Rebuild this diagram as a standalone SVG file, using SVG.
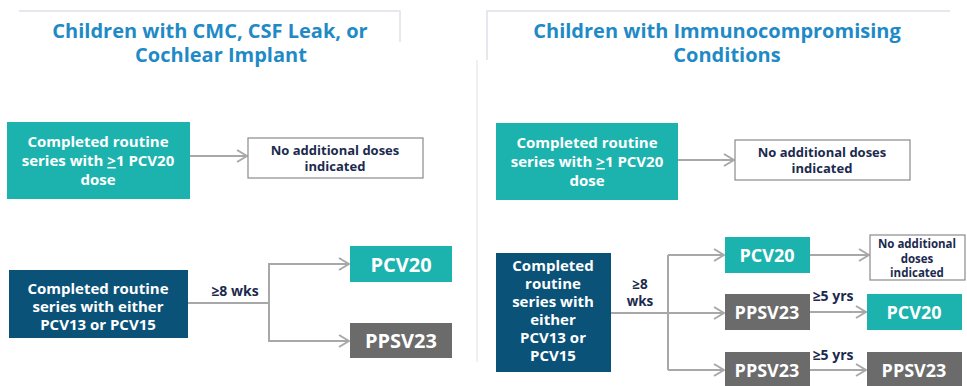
<svg xmlns="http://www.w3.org/2000/svg" width="967" height="386" viewBox="0 0 967 386">
<style>
.title{font-family:"Open Sans","Noto Sans",sans-serif;font-weight:bold;font-size:20px;fill:#1f8ac6;text-anchor:middle}
.wt{font-family:"Open Sans","Noto Sans",sans-serif;font-weight:bold;fill:#ffffff;text-anchor:middle}
.nt{font-family:"Open Sans","Noto Sans",sans-serif;font-weight:bold;fill:#1b2a4e;text-anchor:middle}
.teal{fill:#1cb3ae}
.navy{fill:#0b5278}
.gray{fill:#6b6b6b}
.wbox{fill:#ffffff;stroke:#8a8a8a;stroke-width:1.2}
.conn{fill:none;stroke:#a8a8a8;stroke-width:2}
.frame{fill:none;stroke:#dde1e6;stroke-width:1.5}
</style>
<defs>
<marker id="arr" viewBox="0 0 12 14" refX="11" refY="7" markerWidth="12" markerHeight="14" markerUnits="userSpaceOnUse" orient="auto">
<path d="M1,1 L11,7 L1,13" fill="none" stroke="#a8a8a8" stroke-width="2"/>
</marker>
</defs>
<rect width="967" height="386" fill="#ffffff"/>
<g id="frames">
<path class="frame" d="M19,11 H400 V42"/>
<path class="frame" d="M950,11 H487 V60"/>
<line x1="477" y1="60" x2="477" y2="362" stroke="#ebebeb" stroke-width="1.5"/>
</g>
<g id="title-left">
<text class="title" x="210" y="38">Children with CMC, CSF Leak, or</text>
<text class="title" x="221" y="62">Cochlear Implant</text>
</g>
<g id="title-right">
<text class="title" x="717" y="38">Children with Immunocompromising</text>
<text class="title" x="727" y="62">Conditions</text>
</g>
<g id="connectors">
<line class="conn" x1="190" y1="156" x2="247" y2="156" marker-end="url(#arr)"/>
<line class="conn" x1="188" y1="303" x2="269" y2="303"/>
<path class="conn" d="M349,264 H269 V341 H349" marker-end="url(#arr)"/>
<line class="conn" x1="269" y1="264" x2="349" y2="264" marker-end="url(#arr)"/>
<line class="conn" x1="678" y1="160" x2="734" y2="160" marker-end="url(#arr)"/>
<line class="conn" x1="611" y1="313" x2="668" y2="313"/>
<path class="conn" d="M668,255 V370"/>
<line class="conn" x1="668" y1="255" x2="724" y2="255" marker-end="url(#arr)"/>
<line class="conn" x1="668" y1="313" x2="724" y2="313" marker-end="url(#arr)"/>
<line class="conn" x1="668" y1="370" x2="724" y2="370" marker-end="url(#arr)"/>
<line class="conn" x1="810" y1="255" x2="869" y2="255" marker-end="url(#arr)"/>
<line class="conn" x1="810" y1="312" x2="866" y2="312" marker-end="url(#arr)"/>
<line class="conn" x1="810" y1="370" x2="866" y2="370" marker-end="url(#arr)"/>
<text class="nt" x="235" y="296" font-size="14">≥8 wks</text>
<text class="nt" x="640" y="289" font-size="13.5">≥8</text>
<text class="nt" x="640" y="306" font-size="13.5">wks</text>
<text class="nt" x="833" y="301" font-size="14">≥5 yrs</text>
<text class="nt" x="833" y="360" font-size="14">≥5 yrs</text>
</g>
<g id="L-pcv20-done">
<rect class="teal" x="7" y="122" width="183" height="77"/>
<text class="wt" x="98" y="147" font-size="15">Completed routine</text>
<text class="wt" x="98" y="166" font-size="15">series with <tspan text-decoration="underline">&gt;</tspan>1 PCV20</text>
<text class="wt" x="98" y="185" font-size="15">dose</text>
</g>
<g id="L-no-add">
<rect class="wbox" x="248" y="138" width="175" height="40"/>
<text class="nt" x="335" y="155" font-size="13">No additional doses</text>
<text class="nt" x="335" y="171" font-size="13">indicated</text>
</g>
<g id="L-pcv13-15">
<rect class="navy" x="9" y="270" width="179" height="68"/>
<text class="wt" x="98" y="294" font-size="15">Completed routine</text>
<text class="wt" x="98" y="312" font-size="15">series with either</text>
<text class="wt" x="98" y="330" font-size="15">PCV13 or PCV15</text>
</g>
<g id="L-pcv20">
<rect class="teal" x="350" y="246" width="102" height="36"/>
<text class="wt" x="401" y="272" font-size="20">PCV20</text>
</g>
<g id="L-ppsv23">
<rect class="gray" x="350" y="323" width="102" height="35"/>
<text class="wt" x="401" y="348" font-size="20">PPSV23</text>
</g>
<g id="R-pcv20-done">
<rect class="teal" x="496" y="123" width="182" height="77"/>
<text class="wt" x="587" y="148" font-size="15">Completed routine</text>
<text class="wt" x="587" y="167" font-size="15">series with <tspan text-decoration="underline">&gt;</tspan>1 PCV20</text>
<text class="wt" x="587" y="186" font-size="15">dose</text>
</g>
<g id="R-no-add">
<rect class="wbox" x="735" y="140" width="175" height="40"/>
<text class="nt" x="822" y="157" font-size="13">No additional doses</text>
<text class="nt" x="822" y="173" font-size="13">indicated</text>
</g>
<g id="R-pcv13-15">
<rect class="navy" x="496" y="253" width="115" height="119"/>
<text class="wt" x="553" y="271" font-size="15">Completed</text>
<text class="wt" x="553" y="289" font-size="15">routine</text>
<text class="wt" x="553" y="307" font-size="15">series with</text>
<text class="wt" x="553" y="325" font-size="15">either</text>
<text class="wt" x="553" y="343" font-size="15">PCV13 or</text>
<text class="wt" x="553" y="361" font-size="15">PCV15</text>
</g>
<g id="R-pcv20">
<rect class="teal" x="725" y="237" width="85" height="36"/>
<text class="wt" x="767" y="262" font-size="18">PCV20</text>
</g>
<g id="R-ppsv23-a">
<rect class="gray" x="725" y="294" width="85" height="36"/>
<text class="wt" x="767" y="319" font-size="18">PPSV23</text>
</g>
<g id="R-ppsv23-b">
<rect class="gray" x="725" y="352" width="85" height="34"/>
<text class="wt" x="767" y="377" font-size="18">PPSV23</text>
</g>
<g id="R-no-add-2">
<rect class="wbox" x="870" y="235" width="95" height="45"/>
<text class="nt" x="917" y="248" font-size="11.5">No additional</text>
<text class="nt" x="917" y="262.5" font-size="11.5">doses</text>
<text class="nt" x="917" y="277" font-size="11.5">indicated</text>
</g>
<g id="R-pcv20-b">
<rect class="teal" x="867" y="294" width="95" height="36"/>
<text class="wt" x="914" y="319" font-size="18">PCV20</text>
</g>
<g id="R-ppsv23-c">
<rect class="gray" x="867" y="352" width="95" height="34"/>
<text class="wt" x="914" y="377" font-size="18">PPSV23</text>
</g>
</svg>
